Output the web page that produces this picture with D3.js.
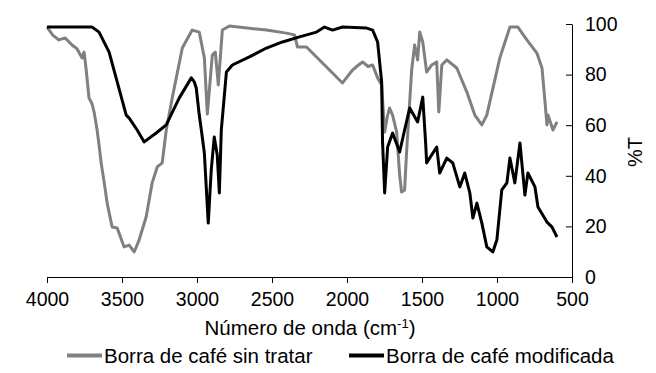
<!DOCTYPE html>
<html>
<head>
<meta charset="utf-8">
<script src="https://cdn.jsdelivr.net/npm/d3@7"></script>
<style>
  body { margin: 0; background: #fff; }
  svg text { font-family: "Liberation Sans", Arial, sans-serif; fill: #000; }
</style>
</head>
<body>
<div id="chart"></div>
<script>
// chart size and plot area
const width = 656, height = 373;
const plot = { left: 47, right: 572, top: 24, bottom: 277 };

// axis ticks
const xTicks = [4000, 3500, 3000, 2500, 2000, 1500, 1000, 500];
const yTicks = [0, 20, 40, 60, 80, 100];

// series names
const seriesNames = ["Borra de café sin tratar", "Borra de café modificada"];

// spectrum of untreated coffee grounds: [wavenumber, %T]
const sinTratar = [
  [4000, 98.8], [3960, 95.5], [3920, 93.7], [3880, 94.5], [3833, 91.7], [3800, 90.2],
  [3766, 86.6], [3753, 88.9], [3740, 82.6], [3720, 70.8], [3700, 68.5], [3686, 65.2],
  [3666, 58.1], [3653, 52.2], [3639, 45.1], [3619, 37.5], [3599, 29.2], [3566, 19.8],
  [3532, 19.4], [3486, 11.9], [3452, 12.6], [3419, 9.9], [3386, 14.6], [3339, 23.7],
  [3299, 37.2], [3265, 43.5], [3232, 45.1], [3205, 58.1], [3165, 70.8], [3098, 90.5],
  [3032, 97.6], [2985, 96.8], [2951, 86.6], [2931, 64.4], [2898, 87.7], [2878, 88.9],
  [2858, 75.9], [2831, 97.6], [2784, 99.2], [2537, 97.6], [2404, 96.4], [2350, 95.7],
  [2330, 90.9], [2270, 90.9], [2030, 76.7], [1963, 81.8], [1930, 83.5], [1896, 85.0],
  [1860, 83.2], [1829, 83.8], [1796, 78.7], [1769, 75.9], [1749, 57.3], [1729, 64.0],
  [1716, 66.8], [1696, 64.0], [1669, 57.3], [1649, 40.3], [1636, 33.6], [1616, 34.4],
  [1602, 50.2], [1569, 81.8], [1549, 91.7], [1529, 85.8], [1515, 96.8], [1495, 92.9],
  [1469, 81.0], [1435, 83.8], [1402, 85.0], [1388, 65.2], [1368, 83.8], [1335, 85.8],
  [1268, 82.6], [1201, 73.1], [1148, 64.0], [1101, 60.1], [1068, 64.0], [981, 86.6],
  [914, 98.8], [861, 98.8], [801, 93.7], [734, 88.5], [700, 82.6], [680, 69.2],
  [667, 60.1], [660, 64.0], [627, 58.1], [600, 61.3]
];

// spectrum of modified coffee grounds: [wavenumber, %T]
const modificada = [
  [4000, 98.8], [3853, 98.8], [3700, 98.8], [3653, 96.8], [3586, 88.9], [3532, 77.1],
  [3472, 64.0], [3452, 62.8], [3399, 58.1], [3352, 53.4], [3272, 56.9], [3205, 60.1],
  [3118, 70.8], [3038, 78.7], [3018, 77.1], [3005, 74.7], [2985, 64.0], [2971, 58.1],
  [2951, 49.0], [2925, 21.3], [2905, 42.3], [2885, 55.3], [2865, 48.2], [2851, 33.2],
  [2838, 58.1], [2804, 81.0], [2764, 83.8], [2651, 87.0], [2537, 90.5], [2430, 92.9],
  [2317, 94.9], [2203, 96.8], [2150, 98.8], [2096, 97.6], [2030, 98.8], [1869, 98.4],
  [1829, 97.6], [1796, 92.9], [1769, 77.1], [1763, 53.4], [1749, 33.2], [1729, 51.4],
  [1696, 56.9], [1649, 49.4], [1616, 58.1], [1582, 66.8], [1529, 61.3], [1495, 71.1],
  [1475, 52.2], [1469, 45.1], [1402, 51.4], [1382, 41.1], [1335, 47.0], [1295, 45.1],
  [1248, 35.6], [1215, 41.1], [1181, 33.2], [1161, 23.3], [1134, 29.2], [1101, 21.3],
  [1068, 11.9], [1028, 9.9], [1001, 14.6], [968, 34.4], [934, 37.2], [914, 47.0],
  [881, 37.2], [847, 53.0], [814, 32.4], [794, 41.1], [747, 35.6], [727, 27.7],
  [667, 21.7], [634, 19.8], [600, 15.8]
];

const seriesColors = ["#808080", "#000000"];

const svg = d3.select("#chart")
  .append("svg")
  .attr("width", width)
  .attr("height", height);

const xScale = d3.scaleLinear()
  .domain([4000, 500])
  .range([plot.left, plot.right]);

const yScale = d3.scaleLinear()
  .domain([0, 100])
  .range([plot.bottom, plot.top]);

// x axis, ticks pointing down
svg.append("g")
  .attr("transform", `translate(0, ${plot.bottom})`)
  .call(d3.axisBottom(xScale).tickValues(xTicks).tickFormat(d3.format("d"))
    .tickSizeOuter(0).tickSize(6).tickPadding(9))
  .call(g => g.selectAll("text").style("font-size", "19.5px"));

// y axis on the right, ticks pointing inward
svg.append("g")
  .attr("transform", `translate(${plot.right}, 0)`)
  .call(d3.axisRight(yScale).tickValues(yTicks).tickSizeOuter(0).tickSizeInner(-6).tickPadding(13))
  .call(g => g.selectAll("text").style("font-size", "19.5px"));

svg.selectAll(".domain, .tick line").attr("stroke", "#000");

// axis titles
const xTitle = svg.append("text")
  .attr("x", 310)
  .attr("y", 335)
  .attr("text-anchor", "middle")
  .style("font-size", "20.5px");
xTitle.append("tspan").text("Número de onda (cm");
xTitle.append("tspan").attr("dy", -7).style("font-size", "13px").text("-1");
xTitle.append("tspan").attr("dy", 7).text(")");

svg.append("text")
  .attr("transform", "translate(642, 152) rotate(-90)")
  .attr("text-anchor", "middle")
  .style("font-size", "20px")
  .text("%T");

// spectra
const line = d3.line()
  .x(d => xScale(d[0]))
  .y(d => yScale(d[1]));

[sinTratar, modificada].forEach((data, i) => {
  svg.append("path")
    .datum(data)
    .attr("fill", "none")
    .attr("stroke", seriesColors[i])
    .attr("stroke-width", 3)
    .attr("stroke-linejoin", "round")
    .attr("d", line);
});

// legend
const legendX = [67, 349];
seriesNames.forEach((name, i) => {
  svg.append("line")
    .attr("x1", legendX[i]).attr("x2", legendX[i] + 35)
    .attr("y1", 355.5).attr("y2", 355.5)
    .attr("stroke", seriesColors[i])
    .attr("stroke-width", 4);
  svg.append("text")
    .attr("x", legendX[i] + 37)
    .attr("y", 362.5)
    .style("font-size", "20.5px")
    .text(name);
});
</script>
</body>
</html>
